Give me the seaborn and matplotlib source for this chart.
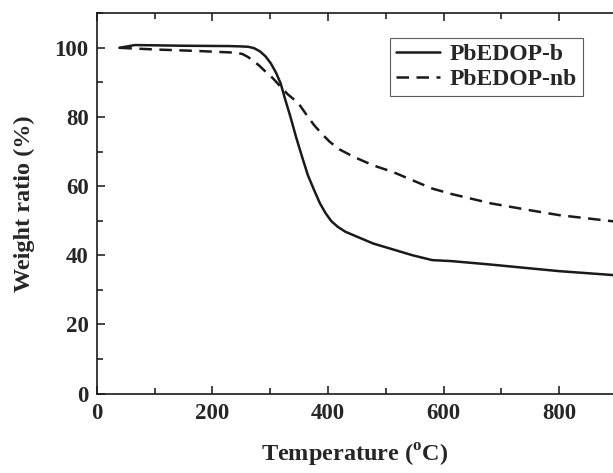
import pandas as pd
import seaborn as sns
import matplotlib.pyplot as plt
from matplotlib.ticker import MultipleLocator

# TGA curves
temp_b = [39, 66, 150, 230, 250, 262, 272, 282, 292, 301, 310, 318, 326, 335, 345, 355, 365, 376, 386,
          396, 406, 417, 430, 444, 478, 512, 546, 580, 614, 682, 750, 800, 899]
weight_b = [100, 100.8, 100.6, 100.5, 100.4, 100.3, 99.9, 99.0, 97.5, 95.5, 92.8, 89.7, 85, 80, 74,
            68.5, 63.2, 58.8, 55, 52.1, 49.8, 48.2, 46.8, 45.8, 43.4, 41.7, 40, 38.6, 38.3, 37.3,
            36.2, 35.4, 34.2]

temp_nb = [39, 103, 172, 240, 252, 262, 272, 280, 290, 301, 310, 318, 330, 340, 349, 362, 376, 390,
           403, 420, 444, 478, 512, 546, 580, 614, 682, 750, 800, 899]
weight_nb = [100, 99.5, 99.1, 98.6, 98.2, 97.3, 96, 95, 93.4, 91.8, 90.2, 88.7, 86.6, 85.2, 83.9,
             80.8, 77.6, 75, 72.8, 70.6, 68.5, 66, 64.1, 61.7, 59.3, 57.7, 55, 53, 51.6, 49.7]

names = ['PbEDOP-b', 'PbEDOP-nb']

df = pd.concat([
    pd.DataFrame({'T': temp_b, 'W': weight_b, 'sample': names[0]}),
    pd.DataFrame({'T': temp_nb, 'W': weight_nb, 'sample': names[1]}),
])

sns.set_style('ticks')
plt.rcParams['font.family'] = ['Liberation Serif', 'DejaVu Serif']
plt.rcParams['font.weight'] = 'bold'
plt.rcParams['mathtext.fontset'] = 'custom'
plt.rcParams['mathtext.rm'] = 'Liberation Serif:bold'
plt.rcParams['mathtext.bf'] = 'Liberation Serif:bold'

fig = plt.figure(figsize=(6.13, 4.73), dpi=100)
ax = fig.add_axes([0.158, 0.168, 0.842, 0.804])

sns.lineplot(data=df, x='T', y='W', hue='sample', style='sample',
             palette=['#1a1a1a', '#1a1a1a'], dashes=[(None, None), (5, 3)],
             linewidth=1.8, ax=ax, legend=True)

ax.set_xlim(0, 893)
ax.set_ylim(0, 110)
ax.xaxis.set_major_locator(MultipleLocator(200))
ax.xaxis.set_minor_locator(MultipleLocator(100))
ax.yaxis.set_major_locator(MultipleLocator(20))
ax.yaxis.set_minor_locator(MultipleLocator(10))
ax.tick_params(which='both', direction='in', top=True, right=False, width=1.2, labelsize=16.5)
ax.tick_params(which='major', length=6)
ax.tick_params(which='minor', length=4)
ax.tick_params(axis='x', pad=7)
ax.tick_params(axis='y', pad=6)
for s in ['left', 'bottom', 'top']:
    ax.spines[s].set_linewidth(1.2)
    ax.spines[s].set_color('#1a1a1a')
ax.spines['right'].set_visible(False)
for lab in ax.get_xticklabels() + ax.get_yticklabels():
    lab.set_fontweight('bold')

ax.set_xlabel('Temperature ($^{\\mathrm{o}}$C)', fontsize=17.5, fontweight='bold', labelpad=13)
ax.set_ylabel('Weight ratio (%)', fontsize=17.5, fontweight='bold', labelpad=14)

leg = ax.legend(loc='upper right', bbox_to_anchor=(0.942, 0.936), borderaxespad=0, frameon=True,
                fancybox=False, edgecolor='#333333', fontsize=17, handlelength=1.9, borderpad=0.25,
                labelspacing=0.15, handletextpad=0.4)
leg.get_frame().set_linewidth(0.8)
for t in leg.get_texts():
    t.set_fontweight('bold')

plt.savefig('out.png', dpi=100)
plt.close()
